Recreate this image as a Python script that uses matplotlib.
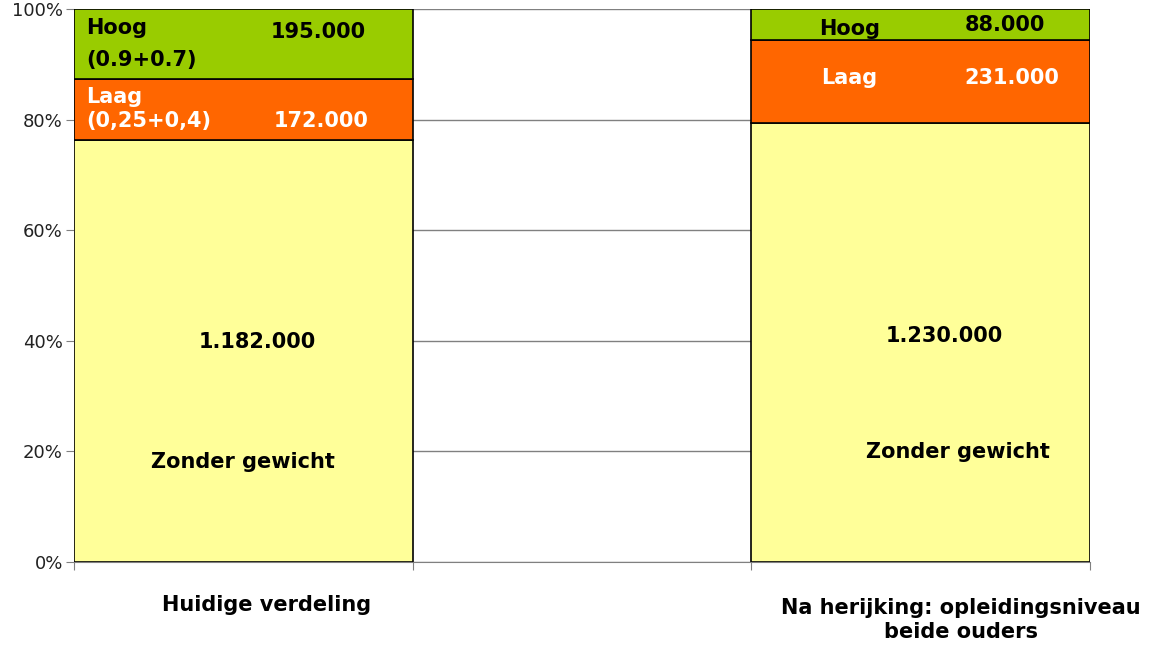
import matplotlib.pyplot as plt
import numpy as np

# data
categories = ['Huidige verdeling', 'Na herijking: opleidingsniveau\nbeide ouders']
zonder = [1182000, 1230000]
laag = [172000, 231000]
hoog = [195000, 88000]

zonder = np.array(zonder, dtype=float)
laag = np.array(laag, dtype=float)
hoog = np.array(hoog, dtype=float)
tot = zonder + laag + hoog
pz = zonder / tot * 100
pl = laag / tot * 100
ph = hoog / tot * 100

fig = plt.figure(figsize=(11.55, 6.45), dpi=100)
ax = fig.add_axes([74/1155, 83/645, 1016/1155, 553/645])

# middle slot stays empty, like the original
x = np.array([0, 2])
ax.set_axisbelow(True)
ax.yaxis.grid(True, color='#808080', lw=1)
ax.bar(x, pz, width=1, color='#FFFF99', edgecolor='black', lw=1.2)
ax.bar(x, pl, width=1, bottom=pz, color='#FF6600', edgecolor='black', lw=1.2)
ax.bar(x, ph, width=1, bottom=pz + pl, color='#99CC00', edgecolor='black', lw=1.2)

ax.set_xlim(-0.5, 2.5)
ax.set_ylim(0, 100)
ax.set_yticks(range(0, 101, 20))
ax.set_yticklabels([f'{v}%' for v in range(0, 101, 20)], fontsize=13, color='#222222')
ax.set_xticks([-0.5, 0.5, 1.5, 2.5])
ax.set_xticklabels([])
ax.tick_params(axis='x', length=6, color='#808080', direction='out')
ax.tick_params(axis='y', length=6, color='#808080', pad=2)
for s in ['top', 'right', 'left']:
    ax.spines[s].set_visible(False)
ax.spines['bottom'].set_color('#808080')

def fmt(v):
    return f'{int(v):,}'.replace(',', '.')

bold = dict(fontsize=15, fontweight='bold')

# bar 1 labels
ax.text(-0.465, 96.5, 'Hoog', color='black', ha='left', va='center', **bold)
ax.text(-0.465, 90.8, '(0.9+0.7)', color='black', ha='left', va='center', **bold)
ax.text(0.22, 95.9, fmt(hoog[0]), color='black', ha='center', va='center', **bold)
ax.text(-0.465, 84.0, 'Laag', color='white', ha='left', va='center', **bold)
ax.text(-0.465, 79.7, '(0,25+0,4)', color='white', ha='left', va='center', **bold)
ax.text(0.23, 79.7, fmt(laag[0]), color='white', ha='center', va='center', **bold)
ax.text(0.04, 39.8, fmt(zonder[0]), color='black', ha='center', va='center', **bold)
ax.text(0.0, 18.0, 'Zonder gewicht', color='black', ha='center', va='center', **bold)

# bar 2 labels
ax.text(1.79, 96.4, 'Hoog', color='black', ha='center', va='center', **bold)
ax.text(2.25, 97.1, fmt(hoog[1]), color='black', ha='center', va='center', **bold)
ax.text(1.79, 87.5, 'Laag', color='white', ha='center', va='center', **bold)
ax.text(2.27, 87.5, fmt(laag[1]), color='white', ha='center', va='center', **bold)
ax.text(2.07, 40.9, fmt(zonder[1]), color='black', ha='center', va='center', **bold)
ax.text(2.11, 19.9, 'Zonder gewicht', color='black', ha='center', va='center', **bold)

# category labels
ax.text(0.07, -7.7, categories[0], ha='center', va='center', **bold)
ax.text(2.12, -10.4, categories[1], ha='center', va='center', linespacing=1.25, **bold)

fig.savefig('out.png', dpi=100)
